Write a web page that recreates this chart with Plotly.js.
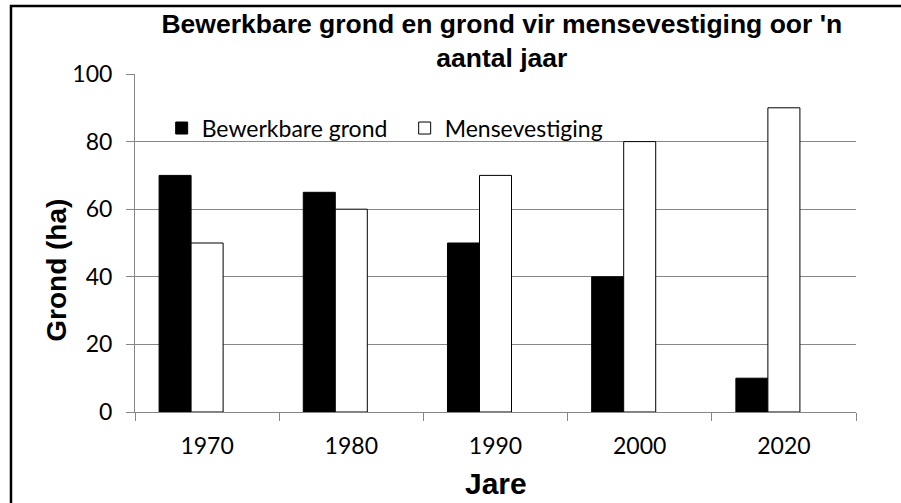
<!DOCTYPE html>
<html>
<head>
<meta charset="utf-8">
<script src="https://cdn.plot.ly/plotly-3.0.1.min.js"></script>
<style>
  html, body { margin: 0; padding: 0; background: #ffffff; }
  #chart { width: 901px; height: 503px; }
</style>
</head>
<body>
<div id="chart"></div>
<script>
// ---- data ----
const years = ['1970', '1980', '1990', '2000', '2020'];
const bewerkbareGrond = [70, 65, 50, 40, 10];
const mensevestiging = [50, 60, 70, 80, 90];
const emptySeries = [null, null, null, null, null]; // third (empty) series slot in the original chart
const seriesNames = ['Bewerkbare grond', 'Mensevestiging', ''];
const yTicks = [0, 20, 40, 60, 80, 100];
const chartTitle = "Bewerkbare grond en grond vir mensevestiging oor 'n<br>aantal jaar";
const xTitle = 'Jare';
const yTitle = 'Grond (ha)';

const gray = '#868686';
const tickFont = { family: 'Lato, Carlito, sans-serif', size: 23, color: '#000000' };
const boldFont = 'Liberation Sans, Arial, sans-serif';

const traces = [
  {
    type: 'bar', name: seriesNames[0], x: years, y: bewerkbareGrond,
    marker: { color: '#000000', line: { color: '#000000', width: 1 } },
    hoverinfo: 'x+y+name'
  },
  {
    type: 'bar', name: seriesNames[1], x: years, y: mensevestiging,
    marker: { color: '#ffffff', line: { color: '#000000', width: 1 } },
    hoverinfo: 'x+y+name'
  },
  {
    type: 'bar', name: seriesNames[2], x: years, y: emptySeries,
    marker: { color: '#ffffff', line: { color: '#000000', width: 0 } },
    showlegend: false, hoverinfo: 'skip'
  }
];

const layout = {
  width: 901, height: 503,
  margin: { l: 135, r: 45, t: 74, b: 91, pad: 0 },
  paper_bgcolor: '#ffffff', plot_bgcolor: '#ffffff',
  barmode: 'group', bargap: 0.334, bargroupgap: 0,
  title: {
    text: chartTitle,
    font: { family: boldFont, size: 26.5, color: '#000000', weight: 'bold' },
    xref: 'container', x: 0.557, xanchor: 'center',
    yref: 'container', y: 0.935, yanchor: 'top'
  },
  xaxis: {
    type: 'category', tickson: 'boundaries',
    showline: true, linecolor: gray, linewidth: 1,
    ticks: 'outside', ticklen: 8, tickcolor: gray, tickwidth: 1,
    showgrid: false, zeroline: false,
    tickfont: tickFont, ticklabelstandoff: 13
  },
  yaxis: {
    range: [0, 100], tickvals: yTicks, ticktext: yTicks.map(String),
    showline: true, linecolor: gray, linewidth: 1,
    ticks: 'outside', ticklen: 8, tickcolor: gray, tickwidth: 1,
    showgrid: true, gridcolor: gray, gridwidth: 1, zeroline: false,
    tickfont: tickFont, ticklabelstandoff: 9
  },
  legend: {
    orientation: 'h', x: 0.037, xanchor: 'left', y: 0.84, yanchor: 'middle',
    bgcolor: 'rgba(0,0,0,0)', font: tickFont, entrywidth: 198, traceorder: 'normal'
  },
  annotations: [
    {
      text: yTitle, textangle: -90, showarrow: false,
      xref: 'paper', yref: 'paper', x: -0.11, y: 0.42,
      xanchor: 'center', yanchor: 'middle',
      font: { family: boldFont, size: 28, color: '#000000', weight: 'bold' }
    },
    {
      text: xTitle, showarrow: false,
      xref: 'paper', yref: 'paper', x: 0.5, y: -0.212,
      xanchor: 'center', yanchor: 'middle',
      font: { family: boldFont, size: 30, color: '#000000', weight: 'bold' }
    }
  ],
  shapes: [
    {
      type: 'rect', xref: 'paper', yref: 'paper',
      x0: -0.172, x1: 1.08, y0: -0.3, y1: 1.2012,
      line: { color: '#000000', width: 2.5 }, fillcolor: 'rgba(0,0,0,0)', layer: 'above'
    }
  ],
  showlegend: true
};

Plotly.newPlot('chart', traces, layout, { displayModeBar: false, staticPlot: true });
</script>
</body>
</html>
